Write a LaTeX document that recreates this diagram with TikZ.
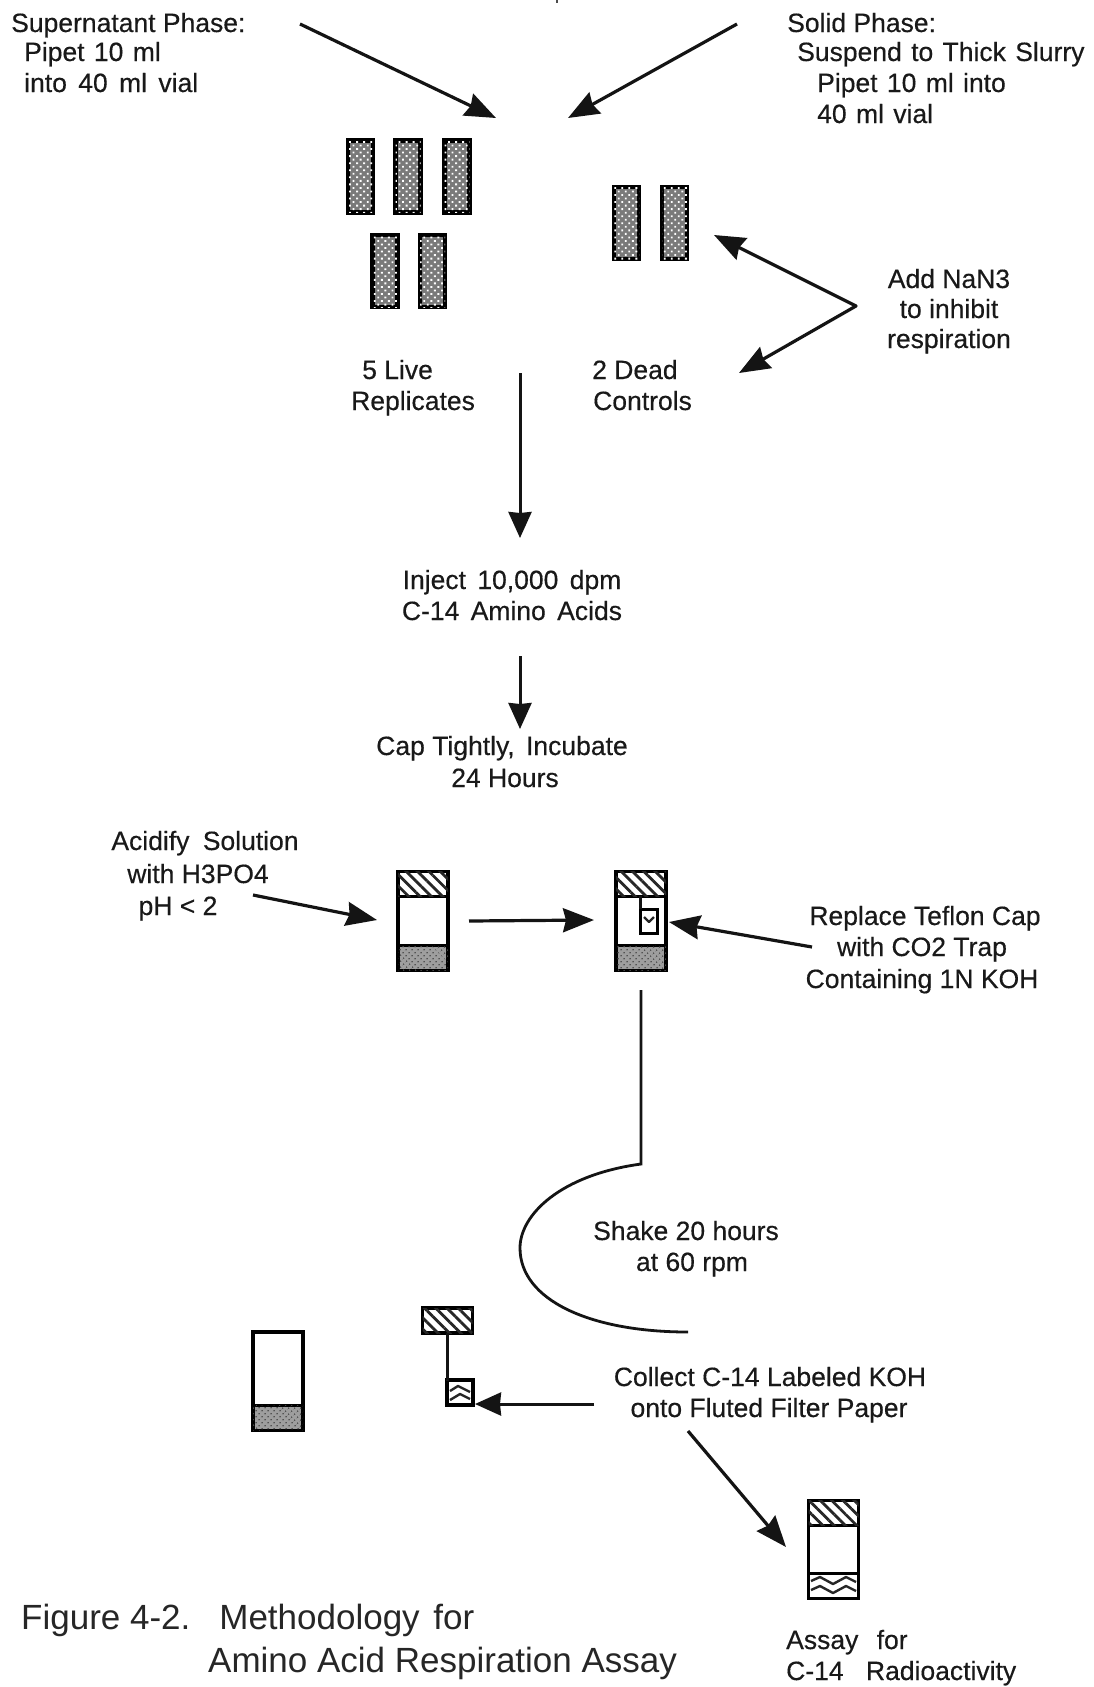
\documentclass[tikz,border=0pt]{standalone}
\usepackage{fontspec}
\setmainfont{Liberation Sans}
\newfontfamily\labfont[FakeBold=0.35]{Liberation Sans}
\usetikzlibrary{patterns,patterns.meta,arrows.meta}
\tikzset{
  x=1pt,y=-1pt,
  lab/.style={font=\labfont\fontsize{26.5}{26.5}\selectfont,inner sep=0pt,text=black!90,text height=19pt,text depth=5pt},
  labl/.style={lab,anchor=west},
  fig/.style={font=\fontsize{35}{35}\selectfont,inner sep=0pt,anchor=west,text=black!85,text height=25pt,text depth=7pt},
  arr/.style={line width=3.2pt,black!92,-{Stealth[length=31pt,width=24pt,inset=3pt]}},
  arrs/.style={line width=3pt,black!92,-{Stealth[length=26pt,width=23pt,inset=1pt]}},
  conn/.style={line width=2.8pt,black!92},
  tube/.style={draw=black,line width=4.5pt,inner sep=0pt,minimum width=25pt,minimum height=72pt,fill=black!52,
     postaction={pattern={Dots[distance=5pt,radius=1.3pt,angle=45]},pattern color=white}},
  vial/.style={draw=black,line width=3.2pt,inner sep=0pt,minimum width=50pt,minimum height=98pt,fill=white},
  capb/.style={draw=black,line width=3.2pt,inner sep=0pt,minimum width=50pt,minimum height=25pt,fill=white,
     postaction={pattern={Lines[angle=-45,distance=8pt,line width=2.8pt]},pattern color=black!85}},
  soil/.style={draw=black,line width=3.2pt,inner sep=0pt,minimum width=50pt,minimum height=25pt,fill=black!38,
     postaction={pattern={Dots[distance=4pt,radius=0.9pt,angle=45]},pattern color=black!70}},
  wavy/.style={draw=black,line width=3.2pt,inner sep=0pt,minimum width=50pt,minimum height=25pt,fill=white},
  trap/.style={draw=black,line width=3pt,inner sep=0pt,minimum width=17pt,minimum height=24pt,fill=white},
  wline/.style={line width=2.4pt,black!85,line join=round},
}
\begin{document}
\begin{tikzpicture}
\useasboundingbox[fill=white] (0,0) rectangle (1093,1687);
% top fragment
\coordinate (fragA) at (557,0); \coordinate (fragB) at (557,3);
\draw[line width=2pt,black!70] (fragA) -- (fragB);
% top labels
\node[labl] (sup1) at (11,25) {Supernatant Phase:};
\node[labl] (sup2) at (24,54) {Pipet\hspace{2pt} 10\hspace{2pt} ml};
\node[labl] (sup3) at (24,85) {into\hspace{4pt} 40\hspace{4pt} ml\hspace{4pt} vial};
\node[labl] (sol1) at (787,25) {Solid Phase:};
\node[labl] (sol2) at (797,54) {Suspend\hspace{2pt} to\hspace{2pt} Thick\hspace{2pt} Slurry};
\node[labl] (sol3) at (817,85) {Pipet\hspace{2pt} 10\hspace{2pt} ml\hspace{2pt} into};
\node[labl] (sol4) at (817,116) {40\hspace{2pt} ml\hspace{2pt} vial};
\coordinate (tipL) at (496,118);
\coordinate (tipR) at (568,118);
\coordinate (supOut) at (300,24);
\coordinate (solOut) at (737,24);
\draw[arr] (supOut) -- (tipL);
\draw[arr] (solOut) -- (tipR);
% tubes
\node[tube] (l1) at (360.5,176.5) {};
\node[tube] (l2) at (408,176.5) {};
\node[tube] (l3) at (457,176.5) {};
\node[tube] (l4) at (385,271) {};
\node[tube] (l5) at (432.5,271) {};
\node[tube] (d1) at (626.5,223) {};
\node[tube] (d2) at (674.5,223) {};
% labels
\node[labl] (live1) at (362,372) {5 Live};
\node[labl] (live2) at (351,403) {Replicates};
\node[labl] (dead1) at (592,372) {2 Dead};
\node[labl] (dead2) at (593,403) {Controls};
\node[lab] (add1) at (949,281) {Add NaN3};
\node[lab] (add2) at (949,311) {to inhibit};
\node[lab] (add3) at (949,341) {respiration};
\coordinate (addV) at (856,306);
\coordinate (addT1) at (714,235);
\coordinate (addT2) at (739,373);
\draw[arr,line cap=round] (addV) -- (addT1);
\draw[arr,line cap=round] (addV) -- (addT2);
% centre flow
\coordinate (a1s) at (520,373);
\coordinate (a1e) at (520,538);
\draw[arrs] (a1s) -- (a1e);
\node[lab] (inj1) at (512,582) {Inject\hspace{4pt} 10,000\hspace{4pt} dpm};
\node[lab] (inj2) at (512,613) {C-14\hspace{4pt} Amino\hspace{4pt} Acids};
\coordinate (a2s) at (520,656);
\coordinate (a2e) at (520,729);
\draw[arrs] (a2s) -- (a2e);
\node[lab] (cap1) at (502,748) {Cap Tightly,\hspace{4pt} Incubate};
\node[lab] (cap2) at (505,780) {24 Hours};
% acidify row
\node[lab] (aci1) at (205,843) {Acidify\hspace{6pt} Solution};
\node[lab] (aci2) at (198,876) {with H3PO4};
\node[lab] (aci3) at (178,908) {pH < 2};
\node[vial] (va) at (423,921) {};
\node[capb] (vac) at (423,884) {};
\node[soil] (vas) at (423,958) {};
\node[vial] (vb) at (641,921) {};
\node[capb] (vbc) at (641,884) {};
\node[soil] (vbs) at (641,958) {};
\node[trap] (vbt) at (648.5,921) {};
\coordinate (vbst) at (640,896);
\coordinate (vbsb) at (640,909);
\draw[conn,line width=3pt] (vbst) -- (vbsb);
\coordinate (vbw1) at (644,917); \coordinate (vbw2) at (649,922); \coordinate (vbw3) at (654,917);
\draw[wline] (vbw1) -- (vbw2) -- (vbw3);
\coordinate (aciOut) at (253,895);
\coordinate (aciTip) at (377,920);
\draw[arr] (aciOut) -- (aciTip);
\coordinate (abS) at (469,921);
\coordinate (abE) at (594,920);
\draw[arr] (abS) -- (abE);
\coordinate (repS) at (812,947);
\coordinate (repE) at (669,922);
\draw[arr] (repS) -- (repE);
\node[lab] (rep1) at (925,918) {Replace Teflon Cap};
\node[lab] (rep2) at (922,949) {with CO2 Trap};
\node[lab] (rep3) at (922,981) {Containing 1N KOH};
% shake
\coordinate (shS) at (641,990);
\coordinate (shM) at (641,1164);
\coordinate (shE) at (688,1332);
\draw[conn] (shS) -- (shM) .. controls (560,1175) and (520,1215) .. (520,1248) .. controls (520,1300) and (590,1332) .. (shE);
\node[lab] (sh1) at (686,1233) {Shake 20 hours};
\node[lab] (sh2) at (692,1264) {at 60 rpm};
% bottom vials
\node[vial] (vc) at (278,1381) {};
\node[soil] (vcs) at (278,1418) {};
\node[capb] (tc) at (447.5,1320.5) {};
\node[wavy,minimum width=26pt] (ts) at (460,1392.5) {};
\coordinate (tw1) at (450,1391); \coordinate (tw2) at (458,1386); \coordinate (tw3) at (470,1392);
\coordinate (tw4) at (450,1400); \coordinate (tw5) at (460,1394); \coordinate (tw6) at (470,1399);
\draw[wline] (tw1) -- (tw2) -- (tw3);
\draw[wline] (tw4) -- (tw5) -- (tw6);
\coordinate (tcs) at (447,1333);
\coordinate (tce) at (447,1381);
\draw[conn,line width=3pt] (tcs) -- (tce);
\node[lab] (col1) at (770,1379) {Collect C-14 Labeled KOH};
\node[lab] (col2) at (769,1410) {onto Fluted Filter Paper};
\coordinate (colS) at (594,1404);
\coordinate (colE) at (475,1404);
\draw[arrs] (colS) -- (colE);
\coordinate (asS) at (688,1431);
\coordinate (asE) at (786,1547);
\draw[arr] (asS) -- (asE);
% assay vial
\node[vial] (vd) at (833.5,1549.5) {};
\node[capb] (vdc) at (833.5,1513) {};
\node[wavy] (vds) at (833.5,1586) {};
\foreach \yy in {1581,1590} {
  \draw[wline] (811,\yy) -- (820,\yy-4) -- (833,\yy+3) -- (846,\yy-4) -- (856,\yy+1);
}
\node[labl] (ass1) at (786,1642) {Assay\hspace{11pt} for};
\node[labl] (ass2) at (786,1673) {C-14\hspace{15pt} Radioactivity};
% caption
\node[fig] (fig1) at (21,1620) {Figure 4-2.\hspace{16pt} Methodology\hspace{4pt} for};
\node[fig] (fig2) at (208,1663) {Amino Acid Respiration Assay};
\end{tikzpicture}
\end{document}
